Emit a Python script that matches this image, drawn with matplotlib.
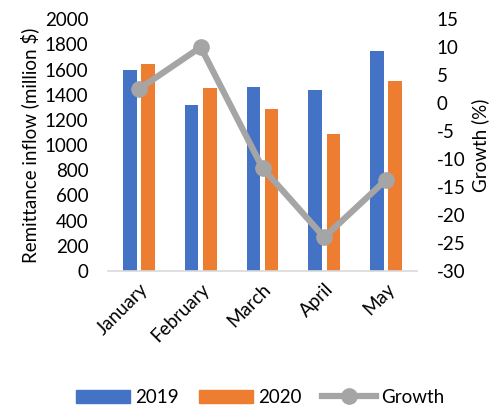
import matplotlib
matplotlib.use("Agg")
import matplotlib.pyplot as plt
import numpy as np
from matplotlib.lines import Line2D
from matplotlib.patches import Patch

months = ["January", "February", "March", "April", "May"]
y2019 = [1600, 1320, 1460, 1435, 1750]
y2020 = [1640, 1450, 1290, 1090, 1510]
growth = [2.5, 10.0, -11.6, -24.0, -13.7]
left_ticks = [0, 200, 400, 600, 800, 1000, 1200, 1400, 1600, 1800, 2000]
right_ticks = [-30, -25, -20, -15, -10, -5, 0, 5, 10, 15]

plt.rcParams['font.family'] = ['Lato', 'DejaVu Sans']
FS = 13.5

fig = plt.figure(figsize=(5.0, 4.08), dpi=100)
ax = fig.add_axes([0.216, 0.336, 0.618, 0.617])
x = np.arange(len(months))
w = 0.22
off = 0.146
blue = '#4472C4'
orange = '#ED7D31'
gray = '#A5A5A5'
ax.bar(x - off, y2019, w, color=blue, zorder=2)
ax.bar(x + off, y2020, w, color=orange, zorder=2)
ax.set_xlim(-0.5, len(months) - 0.5)
ax.set_ylim(0, 2000)
ax.set_yticks(left_ticks)
ax.set_yticklabels([str(t) for t in left_ticks], fontsize=FS)
ax.set_xticks(x)
ax.set_xticklabels(months, rotation=45, ha='right', rotation_mode='anchor', fontsize=FS)
ax.tick_params(length=0)
ax.tick_params(axis='y', pad=14)
ax.tick_params(axis='x', pad=7)
for s in ['top', 'right', 'left']:
    ax.spines[s].set_visible(False)
ax.spines['bottom'].set_color('#D9D9D9')
ax.spines['bottom'].set_linewidth(1.2)
ax.set_ylabel("Remittance inflow (million $)", fontsize=FS, labelpad=4)

ax2 = ax.twinx()
ax2.plot(x, growth, color=gray, lw=4.5, marker='o', ms=11, zorder=3)
ax2.set_ylim(-30, 15)
ax2.set_yticks(right_ticks)
ax2.set_yticklabels([str(t) for t in right_ticks], fontsize=FS)
ax2.tick_params(length=0, pad=14)
for s in ['top', 'right', 'left', 'bottom']:
    ax2.spines[s].set_visible(False)
ax2.set_ylabel("Growth (%)", fontsize=FS, labelpad=4)

handles = [Patch(color=blue), Patch(color=orange),
           Line2D([0], [0], color=gray, lw=4.5, marker='o', ms=11)]
fig.legend(handles, ["2019", "2020", "Growth"], loc='center', bbox_to_anchor=(0.52, 0.026),
           ncol=3, frameon=False, fontsize=FS, handlelength=2.9, handleheight=0.7,
           columnspacing=1.1, handletextpad=0.25)

fig.savefig("out.png", dpi=100)
